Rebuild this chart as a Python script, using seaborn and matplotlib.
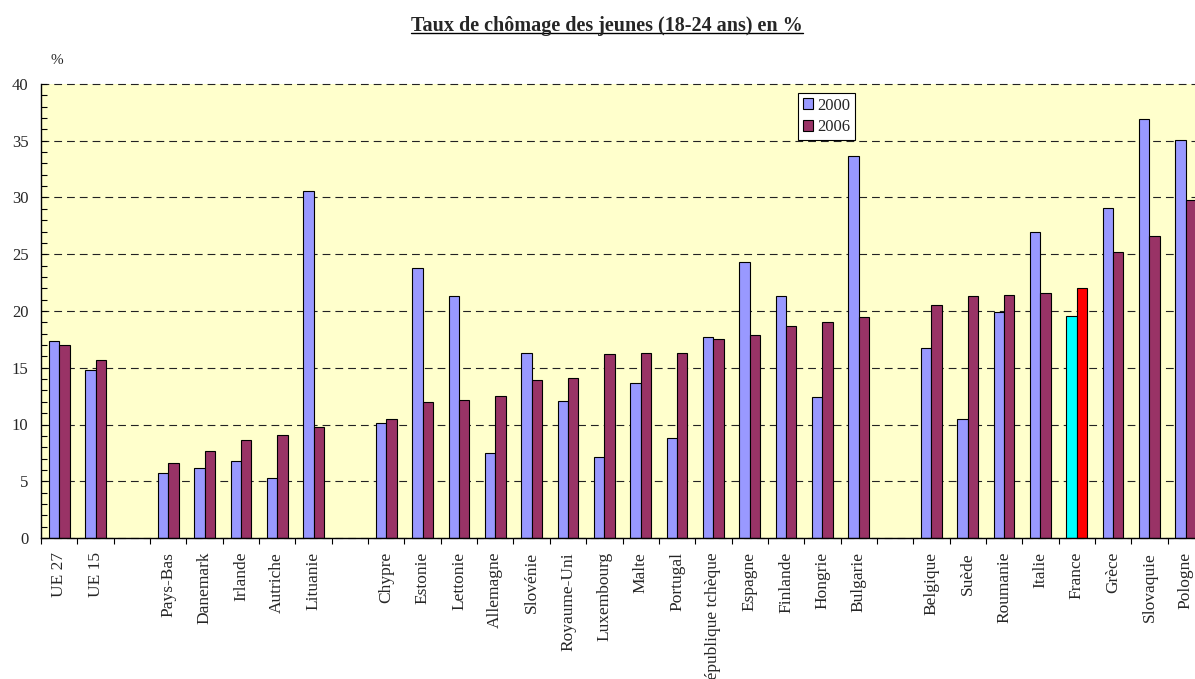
import numpy as np
import pandas as pd
import matplotlib
matplotlib.use("Agg")
import matplotlib.pyplot as plt
import seaborn as sns
from matplotlib.ticker import MultipleLocator, FixedLocator
from matplotlib.lines import Line2D

categories = ["UE 27", "UE 15", " ", "Pays-Bas", "Danemark", "Irlande", "Autriche",
              "Lituanie", "  ", "Chypre", "Estonie", "Lettonie", "Allemagne", "Slovénie",
              "Royaume-Uni", "Luxembourg", "Malte", "Portugal", "République tchèque",
              "Espagne", "Finlande", "Hongrie", "Bulgarie", "   ", "Belgique", "Suède",
              "Roumanie", "Italie", "France", "Grèce", "Slovaquie", "Pologne"]
nan = np.nan
v2000 = [17.4, 14.8, nan, 5.7, 6.2, 6.8, 5.3, 30.6, nan, 10.1, 23.8, 21.3, 7.5, 16.3,
         12.1, 7.1, 13.7, 8.8, 17.7, 24.3, 21.3, 12.4, 33.7, nan, 16.7, 10.5, 19.9,
         27.0, 19.6, 29.1, 36.9, 35.1]
v2006 = [17.0, 15.7, nan, 6.6, 7.7, 8.6, 9.1, 9.8, nan, 10.5, 12.0, 12.2, 12.5, 13.9,
         14.1, 16.2, 16.3, 16.3, 17.5, 17.9, 18.7, 19.0, 19.5, nan, 20.5, 21.3, 21.4,
         21.6, 22.0, 25.2, 26.6, 29.8]
years = ["2000", "2006"]
highlight = "France"

title = "Taux de chômage des jeunes (18-24 ans) en %"

df = pd.DataFrame({
    "pays": categories * 2,
    "annee": [years[0]] * len(categories) + [years[1]] * len(categories),
    "taux": v2000 + v2006,
}).dropna()

sns.set_style("white")
plt.rcParams["font.family"] = ["Liberation Serif", "DejaVu Serif"]
plt.rcParams["font.size"] = 12

fig = plt.figure(figsize=(11.95, 6.79), dpi=100)
ax = fig.add_axes([41 / 1195, 1 - 538 / 679, 1163 / 1195, 454 / 679])
ax.set_facecolor("#FFFFCC")

sns.barplot(data=df, x="pays", y="taux", hue="annee", order=categories,
            hue_order=years, palette=["#9999FF", "#993366"], width=0.57,
            edgecolor="black", linewidth=0.8, saturation=1, ax=ax)

# highlight France
hi_idx = categories.index(highlight)
hi_colors = ["#00FFFF", "#FF0000"]
for cont, col in zip(ax.containers, hi_colors):
    for p in cont.patches:
        cx = p.get_x() + p.get_width() / 2
        if abs(cx - hi_idx) < 0.5:
            p.set_facecolor(col)

ax.set_xlim(-0.5, len(categories) - 0.5)
ax.set_ylim(0, 40)
ax.yaxis.set_major_locator(MultipleLocator(5))
ax.yaxis.set_minor_locator(MultipleLocator(1))
ax.tick_params(axis="y", which="both", direction="in", length=4, width=0.8,
               color="black", pad=9, left=True, labelsize=12)
ax.set_xticks(range(len(categories)))
ax.set_xticklabels(categories, rotation=90)
ax.tick_params(axis="x", which="major", length=0, pad=10, labelsize=12.5)
ax.xaxis.set_minor_locator(FixedLocator(np.arange(-0.5, len(categories), 1.0)))
ax.tick_params(axis="x", which="minor", direction="out", length=4, width=0.8,
               color="black", bottom=True)
ax.set_xlabel("")
ax.set_ylabel("")

ax.yaxis.grid(True, which="major", color="#222222", linestyle=(0, (7, 4.5)), lw=0.8)
ax.xaxis.grid(False)
ax.set_axisbelow(True)
for gl in ax.get_ygridlines():
    gl.set_clip_on(False)

for s in ["top", "right"]:
    ax.spines[s].set_visible(False)
for s in ["left", "bottom"]:
    ax.spines[s].set_color("black")
    ax.spines[s].set_linewidth(1.0)

handles, labels = ax.get_legend_handles_labels()
leg = ax.legend(handles, labels, loc="upper left", bbox_to_anchor=(0.6506, 0.981),
                borderaxespad=0, frameon=True, fancybox=False, framealpha=1,
                edgecolor="black", fontsize=12, handlelength=0.6, handleheight=0.6,
                handletextpad=0.25, labelspacing=0.35, borderpad=0.3)
leg.get_frame().set_linewidth(0.8)

fig.text(57 / 1195, 1 - 60 / 679, "%", ha="center", va="center", fontsize=11)

t = fig.text(607 / 1195, 1 - 30.5 / 679, title, ha="center", va="baseline",
             fontsize=14.5, fontweight="bold")
fig.canvas.draw()
bb = t.get_window_extent().transformed(fig.transFigure.inverted())
uy = 1 - 33 / 679
fig.add_artist(Line2D([bb.x0, bb.x1], [uy, uy], color="black", lw=1.0,
                      transform=fig.transFigure))

fig.savefig("out.png", dpi=100)
